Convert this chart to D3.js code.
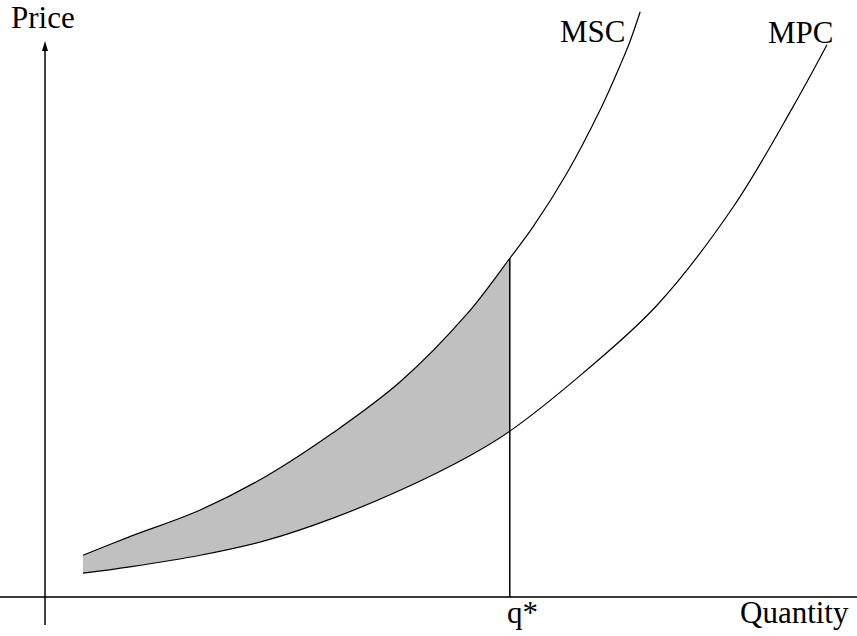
<!DOCTYPE html>
<meta charset="utf-8">
<head>
<style>
body { margin: 0; background: #fff; }
text {
  font-family: "Liberation Serif", "Times New Roman", serif;
  font-size: 31px;
  fill: #000;
}
.curve { fill: none; stroke: #000; stroke-width: 1.2; }
.shade { fill: #c0c0c0; stroke: none; }
</style>
</head>
<body>
<svg width="857" height="636"></svg>
<script src="https://cdn.jsdelivr.net/npm/d3@7"></script>
<script>

// quantities shared by both curves up to q*
var sharedQ = [4.75, 10.6, 19.4, 27.75, 36, 44.4, 52.75, 58.1];
var mscSharedP = [7.2, 10.4, 15.0, 20.9, 28.3, 37.1, 48.8, 58.4];
var mpcSharedP = [4.1, 5.2, 7.2, 9.8, 13.6, 18.4, 24.1, 28.6];

// curves past q*
var mscUpperQ = [61, 65.25, 69.4, 71.9, 73.1, 74.4];
var mscUpperP = [63.8, 73.1, 84.0, 91.7, 95.7, 100.9];
var mpcUpperQ = [67.25, 76.5, 86, 93.5, 97.75];
var mpcUpperP = [38.6, 50.3, 67.2, 84.5, 95.2];

var qStar = 58.1;

var curveLabels = ["MSC", "MPC"];
var axisLabels = ["Price", "Quantity"];
var qStarLabel = "q*";

var svg = d3.select("svg");

var x = d3.scaleLinear().domain([0, 100]).range([45, 845]),
    y = d3.scaleLinear().domain([0, 100]).range([597, 17]);

function zipPts(qs, ps) { return qs.map(function(q, i) { return [q, ps[i]]; }); }

var msc = zipPts(sharedQ, mscSharedP).concat(zipPts(mscUpperQ, mscUpperP)),
    mpc = zipPts(sharedQ, mpcSharedP).concat(zipPts(mpcUpperQ, mpcUpperP));

var band = sharedQ.map(function(q, i) { return { q: q, lo: mpcSharedP[i], hi: mscSharedP[i] }; });

var curve = d3.curveCatmullRom.alpha(0.5);

// shaded external cost
svg.append("path")
    .attr("class", "shade")
    .attr("d", d3.area()
      .curve(curve)
      .x(function(d) { return x(d.q); })
      .y0(function(d) { return y(d.lo); })
      .y1(function(d) { return y(d.hi); })(band));

var line = d3.line()
    .curve(curve)
    .x(function(d) { return x(d[0]); })
    .y(function(d) { return y(d[1]); });

// axes
svg.append("line")
    .attr("x1", 0).attr("x2", 857)
    .attr("y1", y(0)).attr("y2", y(0))
    .attr("stroke", "#3a3a3a").attr("stroke-width", 2);

svg.append("line")
    .attr("x1", x(0)).attr("x2", x(0))
    .attr("y1", y(0) + 28).attr("y2", 46)
    .attr("stroke", "#000").attr("stroke-width", 1.5);

svg.append("path")
    .attr("d", "M" + x(0) + ",41 l-3,10 l6,0 z")
    .attr("fill", "#000");

// q* line
svg.append("line")
    .attr("x1", x(qStar)).attr("x2", x(qStar))
    .attr("y1", y(0)).attr("y2", y(mscSharedP[mscSharedP.length - 1]))
    .attr("stroke", "#000").attr("stroke-width", 1.5);

svg.append("path").attr("class", "curve").attr("d", line(msc));
svg.append("path").attr("class", "curve").attr("d", line(mpc));

// labels
svg.append("text").attr("x", 11).attr("y", 28).text(axisLabels[0]);
svg.append("text").attr("x", 740).attr("y", 623).text(axisLabels[1]);
svg.append("text").attr("x", 507).attr("y", 623).text(qStarLabel);
svg.append("text").attr("x", 560).attr("y", 42).text(curveLabels[0]);
svg.append("text").attr("x", 768).attr("y", 43).text(curveLabels[1]);

</script>
</body>
